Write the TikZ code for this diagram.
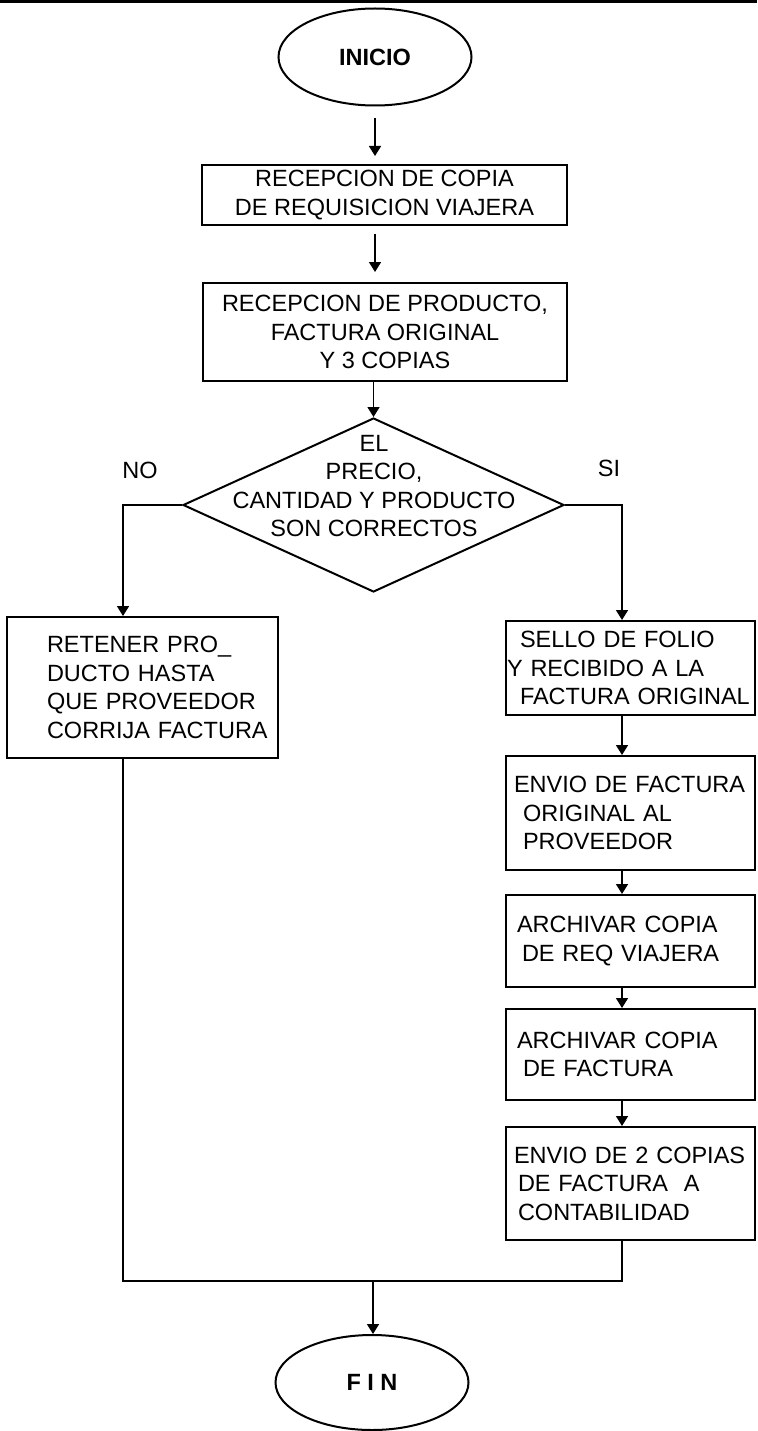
\documentclass[tikz,border=0pt]{standalone}
\usepackage{fontspec}
\setmainfont{Liberation Sans}
\usetikzlibrary{positioning,arrows.meta,shapes.geometric}

\begin{document}
\begin{tikzpicture}[x=1pt,y=-1pt,
    every node/.style={font=\fontsize{23.5}{28.5}\selectfont},
    proc/.style={draw, line width=2pt, rectangle, inner sep=0pt, align=center},
    rbox/.style={proc, minimum width=249pt, text width=233pt, align=left},
    terminal/.style={draw, line width=2pt, ellipse, inner sep=0pt, minimum width=193pt, minimum height=97pt, font=\fontsize{23.5}{28.5}\selectfont\bfseries},
    decision/.style={draw, line width=2pt, diamond, inner sep=0pt, minimum width=381pt, minimum height=174pt},
    flow/.style={line width=1.6pt, -{Triangle[width=12pt,length=10pt]}},
    link/.style={line width=1.6pt}]
                \useasboundingbox (0,0) rectangle (757,1431);

                % Top rule
                \draw[line width=3pt] (0,1.5) -- (757,1.5);

                % Start and first steps
                \node[terminal] (ini) at (375,57) {INICIO};
                \node[proc, minimum width=365pt, minimum height=60pt] (req) at (384.5,195) {RECEPCION DE COPIA\\DE REQUISICION VIAJERA};
                \node[proc, minimum width=364pt, minimum height=98pt] (prod) at (385,332) {RECEPCION DE PRODUCTO,\\FACTURA ORIGINAL\\Y 3 COPIAS};
                \draw[flow, shorten <=12pt, shorten >=8pt] (ini.south) -- (ini.south |- req.north);
                \draw[flow, shorten <=8pt, shorten >=10pt] (ini.south |- req.south) -- (ini.south |- prod.north);

                % Decision
                \node[decision] (chk) at (373.5,505) {};
                \node[align=center] (chktxt) at (374,486) {EL\\PRECIO,\\CANTIDAD Y PRODUCTO\\SON CORRECTOS};
                \draw[flow] (chk.north |- prod.south) -- (chk.north);
                \node (no) at (140,470) {NO};
                \node (si) at (609,468) {SI};
                \coordinate (nocol) at (123,0);
                \coordinate (sicol) at (622,0);

                % NO branch
                \node[proc, minimum width=271pt, minimum height=141pt, text width=191pt, align=left] (ret) at (142.5,687.5) {\mbox{RETENER PRO\_}\\\mbox{DUCTO HASTA}\\\mbox{QUE PROVEEDOR}\\\mbox{CORRIJA FACTURA}};
                \draw[flow] (chk.west) -- (chk.west -| nocol) -- (nocol |- ret.north);

                % SI branch
                \node[rbox, minimum height=94pt] (sello) at (630.5,668) {\mbox{\hspace*{6pt}SELLO DE FOLIO}\\\mbox{\hspace*{-7pt}Y RECIBIDO A LA}\\\mbox{\hspace*{6pt}FACTURA ORIGINAL}};
                \node[rbox, minimum height=114pt] (env) at (630.5,813) {\mbox{ENVIO DE FACTURA}\\\mbox{\hspace*{9pt}ORIGINAL AL}\\\mbox{\hspace*{9pt}PROVEEDOR}};
                \node[rbox, minimum height=92pt] (arch) at (630.5,941) {\mbox{\hspace*{3pt}ARCHIVAR COPIA}\\\mbox{\hspace*{8pt}DE REQ VIAJERA}};
                \node[rbox, minimum height=91pt] (archf) at (630.5,1054.5) {\mbox{\hspace*{3pt}ARCHIVAR COPIA}\\\mbox{\hspace*{9pt}DE FACTURA}};
                \node[rbox, minimum height=113pt] (cont) at (630.5,1183.5) {\mbox{ENVIO DE 2 COPIAS}\\\mbox{\hspace*{4pt}DE FACTURA\ \ A}\\\mbox{\hspace*{4pt}CONTABILIDAD}};
                \draw[flow] (chk.east) -- (chk.east -| sicol) -- (sicol |- sello.north);
                \foreach \a/\b in {sello/env,env/arch,arch/archf,archf/cont}
                    \draw[flow] (sicol |- \a.south) -- (sicol |- \b.north);

                % Join and end
                \node[terminal, minimum height=95pt] (fin) at (372,1382.5) {F I N};
                \coordinate (join) at (373,1281);
                \draw[link] (nocol |- ret.south) -- (nocol |- join) -- (sicol |- join) -- (sicol |- cont.south);
                \draw[flow] (join) -- (join |- fin.north);
            \end{tikzpicture}
\end{document}
